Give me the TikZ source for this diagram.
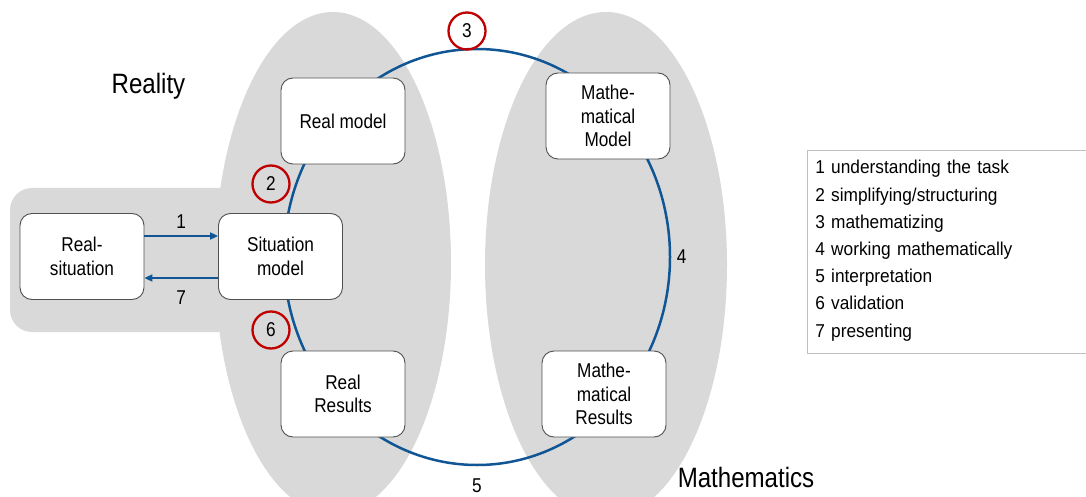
\documentclass[tikz,border=0pt]{standalone}
\usepackage{fontspec}
\setmainfont{Liberation Sans}
\newfontfamily\narrowfont{Liberation Sans}[FakeStretch=0.86]
\newfontfamily\legendfont{Liberation Sans}[FakeStretch=0.93]
\usetikzlibrary{arrows.meta,positioning,shapes.geometric}
\definecolor{cycblue}{RGB}{16,86,148}
\definecolor{stepred}{RGB}{192,0,0}
\definecolor{areagray}{RGB}{217,217,217}
\definecolor{boxline}{RGB}{80,80,80}
\definecolor{legline}{RGB}{191,191,191}

\begin{document}
\begin{tikzpicture}[x=1pt,y=-1pt,>={Triangle[length=8pt,width=7pt]},
  every node/.style={font=\narrowfont\fontsize{20}{23.5}\selectfont,align=center},
  box/.style={draw=boxline,line width=0.9pt,fill=white,rounded corners=12pt,
    minimum width=124pt,minimum height=86pt,inner sep=2pt},
  stepno/.style={circle,draw=stepred,line width=2.3pt,minimum size=37pt,inner sep=0pt},
  flow/.style={->,draw=cycblue,line width=2pt}]
\useasboundingbox (0,0) rectangle (1086,497);
% grey areas behind
\fill[areagray,rounded corners=22pt] (10,188) rectangle (300,332);
\fill[areagray] (333,263) ellipse [x radius=118,y radius=251];
\fill[areagray] (606,265) ellipse [x radius=121,y radius=253];
% modelling cycle
\node[ellipse,draw=cycblue,line width=2.5pt,minimum width=386pt,minimum height=416pt,inner sep=0pt] (cycle) at (477,257) {};
\node[right=2pt of cycle.east] (lab4) {4};
\node[below=9pt of cycle.south] (lab5) {5};
% boxes
\node[box] (rsit) at (82,256.5) {Real-\\situation};
\node[box] (sitm) at (280.5,256.5) {Situation\\model};
\node[box] (rmod) at (343,121) {Real model};
\node[box] (rres) at (343,394) {Real\\Results};
\node[box] (mmod) at (608,116) {Mathe-\\matical\\Model};
\node[box] (mres) at (604,394) {Mathe-\\matical\\Results};
\draw[flow] ([yshift=20.5pt]rsit.east) -- node[above=3.5pt]{1} ([yshift=20.5pt]sitm.west);
\draw[flow] ([yshift=-21.5pt]sitm.west) -- node[below=8.5pt]{7} ([yshift=-21.5pt]rsit.east);
% circled steps
\node[stepno] (s2) at (271,184) {2};
\node[stepno] (s3) at (467,31) {3};
\node[stepno] (s6) at (271,330) {6};
% area names
\node[font=\narrowfont\fontsize{28}{32}\selectfont] (reality) at (148.5,86) {Reality};
\node[font=\narrowfont\fontsize{28}{32}\selectfont] (maths) at (746,477) {Mathematics};
% legend
\node[anchor=north west,draw=legline,line width=0.8pt,text width=269pt,inner xsep=8pt,inner ysep=10pt,
  align=left,font=\legendfont\fontsize{18.6}{27.2}\selectfont] (legend) at (807,150)
  {1 understanding the task\\2 simplifying/structuring\\3 mathematizing\\4 working mathematically\\
   5 interpretation\\6 validation\\7 presenting\rule[-6pt]{0pt}{6pt}};
\end{tikzpicture}
\end{document}
